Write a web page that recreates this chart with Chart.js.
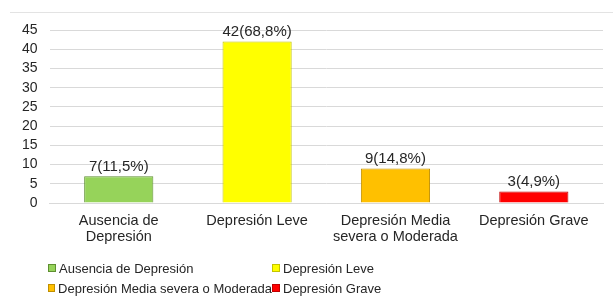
<!DOCTYPE html>
<html>
<head>
<meta charset="utf-8">
<script src="https://cdn.jsdelivr.net/npm/chart.js@4/dist/chart.umd.min.js"></script>
<style>
  html,body{margin:0;padding:0;background:#fff;}
  #wrap{position:relative;width:613px;height:300px;font-family:"Liberation Sans",Arial,sans-serif;}
  #topline{position:absolute;left:10px;top:12px;width:603px;height:0;border-top:1px solid #e3e3e3;}
  canvas{position:absolute;left:0;top:0;}
  #legend{position:absolute;left:48px;top:259px;display:grid;grid-template-columns:224px 220px;row-gap:2px;font-size:13px;color:#262626;}
  .li{display:flex;align-items:center;height:18px;white-space:nowrap;}
  .bx{width:6px;height:6px;margin-right:3px;border:1px solid;}
</style>
</head>
<body>
<div id="wrap">
  <div id="topline"></div>
  <canvas id="c" width="613" height="300"></canvas>
  <div id="legend"></div>
</div>
<script>
const categories = [["Ausencia de","Depresión"],["Depresión Leve"],["Depresión Media","severa o Moderada"],["Depresión Grave"]];
const legendNames = ["Ausencia de Depresión","Depresión Leve","Depresión Media severa o Moderada","Depresión Grave"];
const counts = [7, 42, 9, 3];
const percents = ["11,5","68,8","14,8","4,9"];
const yTicks = [0,5,10,15,20,25,30,35,40,45];
const fillColors = ["#96d35a","#ffff00","#ffc000","#ff0000"];
const borderColors = ["#5e8f31","#c4c400","#c08f00","#c00000"];
const FONT = '"Liberation Sans", Arial, sans-serif';

const labelPlugin = {
  id:'barLabels',
  afterDatasetsDraw(chart){
    const ctx = chart.ctx;
    const meta = chart.getDatasetMeta(0);
    ctx.save();
    ctx.font = '15px ' + FONT;
    ctx.fillStyle = '#262626';
    ctx.textAlign = 'center';
    ctx.textBaseline = 'bottom';
    meta.data.forEach((el,i)=>{
      ctx.fillText(counts[i] + '(' + percents[i] + '%)', el.x, el.y - 2);
    });
    ctx.restore();
  }
};

new Chart(document.getElementById('c'), {
  type:'bar',
  data:{
    labels:categories,
    datasets:[{
      data:counts,
      backgroundColor:fillColors,
      borderColor:borderColors,
      borderWidth:1,
      categoryPercentage:1,
      barPercentage:0.5
    }]
  },
  options:{
    responsive:false,
    animation:false,
    devicePixelRatio:1,
    layout:{padding:{left:10,right:10,top:30,bottom:53}},
    plugins:{legend:{display:false},tooltip:{enabled:false}},
    scales:{
      x:{
        grid:{display:false},
        border:{display:true,color:'#d9d9d9'},
        ticks:{color:'#262626',font:{family:FONT,size:14.5,lineHeight:1.1},padding:2,maxRotation:0,autoSkip:false}
      },
      y:{
        min:0,max:45,
        afterBuildTicks(axis){axis.ticks = yTicks.map(v=>({value:v}));},
        grid:{color:'#d9d9d9',drawTicks:false},
        border:{display:false},
        ticks:{color:'#262626',font:{family:FONT,size:14},padding:12,autoSkip:false,stepSize:5}
      }
    }
  },
  plugins:[labelPlugin]
});

const lg = document.getElementById('legend');
legendNames.forEach((n,i)=>{
  const d = document.createElement('div');
  d.className='li';
  d.innerHTML = '<span class="bx" style="background:'+fillColors[i]+';border-color:'+borderColors[i]+'"></span>';
  d.appendChild(document.createTextNode(n));
  lg.appendChild(d);
});
</script>
</body>
</html>
